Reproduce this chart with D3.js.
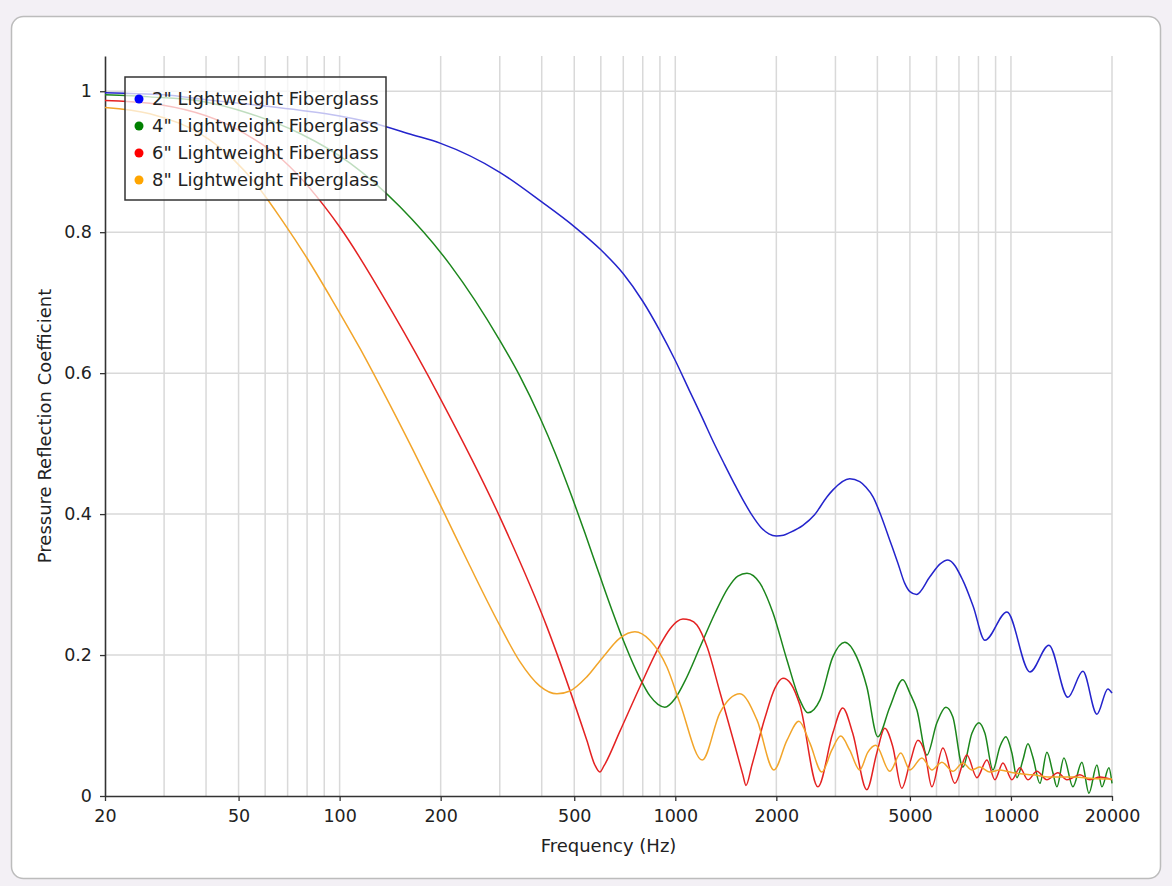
<!DOCTYPE html>
<html><head><meta charset="utf-8">
<script src="https://cdn.jsdelivr.net/npm/d3@7"></script>
<style>
html,body{margin:0;padding:0;background:#f3f0f5;}
svg{display:block;font-family:"DejaVu Sans",Verdana,sans-serif;}
</style></head><body>
<svg id="chart" width="1172" height="886"></svg>
<script>
// ---- data ----
const frequencyTicks = [20, 50, 100, 200, 500, 1000, 2000, 5000, 10000, 20000];
const gridFrequencies = [30, 40, 50, 60, 70, 80, 90, 100, 200, 300, 400, 500, 600, 700, 800, 900,
  1000, 2000, 3000, 4000, 5000, 6000, 7000, 8000, 9000, 10000, 20000];
const reflectionTicks = [0, 0.2, 0.4, 0.6, 0.8, 1];
const seriesLabels = ['2" Lightweight Fiberglass', '4" Lightweight Fiberglass',
  '6" Lightweight Fiberglass', '8" Lightweight Fiberglass'];

// [frequency Hz, pressure reflection coefficient]
const fiberglass2in = [[20,0.998],[22.9,0.997],[30,0.995],[40,0.988],[60,0.979],[76.2,0.973],[100,0.965],
  [120.6,0.957],[165.4,0.938],[200,0.926],[300,0.885],[400,0.843],[500,0.808],[600,0.775],[700,0.741],[800,0.702],
  [900,0.660],[1000,0.618],[1100,0.576],[1200,0.538],[1300,0.502],[1400,0.471],[1500,0.443],[1600,0.418],
  [1700,0.397],[1800,0.381],[1900,0.372],[2000,0.369],[2100,0.370],[2200,0.374],[2400,0.384],[2600,0.399],
  [2826,0.424],[2945,0.434],[3309,0.450],[3544,0.446],[3700,0.438],[3882,0.4245],[4114,0.396],[4355,0.363],
  [4608,0.330],[4823,0.302],[5000,0.290],[5234,0.286],[5734,0.311],[6141,0.329],[6488,0.335],[7190,0.306],
  [7720,0.269],[8365,0.221],[9726,0.261],[11388,0.176],[12973,0.214],[14779,0.140],[16381,0.177],[18032,0.116],
  [19444,0.152],[20000,0.146]];

const fiberglass4in = [[20,0.995],[27.2,0.992],[38.4,0.986],[54.1,0.968],[76.2,0.940],[107.4,0.898],[151.3,0.836],
  [213.2,0.754],[300,0.6465],[344.1,0.596],[395.1,0.537],[437.9,0.4875],[485.5,0.432],[538.1,0.373],[596.3,0.312],
  [647.4,0.264],[708.2,0.215],[784.8,0.167],[840.5,0.142],[887.7,0.130],[931,0.126],[997.6,0.138],[1068,0.163],
  [1184,0.211],[1312,0.259],[1435,0.295],[1536,0.312],[1635,0.316],[1787,0.302],[1954,0.260],[2151,0.193],
  [2351,0.136],[2484,0.118],[2697,0.136],[2945,0.197],[3198,0.218],[3472,0.197],[3720,0.155],[4011,0.084],
  [4355,0.126],[4761,0.165],[5000,0.146],[5246,0.122],[5617,0.058],[6016,0.104],[6400,0.126],[6713,0.112],
  [7190,0.041],[7651,0.089],[8027,0.104],[8365,0.089],[8837,0.037],[9270,0.070],[9660,0.084],[10065,0.061],
  [10417,0.026],[10854,0.051],[11233,0.074],[11625,0.055],[12197,0.018],[12797,0.062],[13335,0.033],
  [13706,0.013],[14380,0.054],[15296,0.013],[16270,0.048],[17070,0.004],[18032,0.044],[18660,0.013],
  [19578,0.040],[20000,0.018]];

const fiberglass6in = [[20,0.987],[27.2,0.983],[48.1,0.949],[67.8,0.902],[100.2,0.807],[144.2,0.685],[199,0.565],
  [300,0.396],[414.6,0.240],[545,0.079],[576,0.044],[596,0.034],[612.9,0.0426],[684.3,0.092],[784.8,0.155],
  [900,0.214],[964,0.237],[1011,0.2475],[1054,0.251],[1105,0.2496],[1160,0.2426],[1245,0.211],[1358,0.1475],
  [1506,0.0709],[1590,0.030],[1624,0.015],[1692,0.044],[1850,0.111],[1981,0.153],[2093,0.167],[2211,0.159],
  [2351,0.129],[2660,0.013],[2945,0.089],[3154,0.125],[3378,0.089],[3720,0.009],[3984,0.061],[4208,0.096],
  [4446,0.070],[4729,0.011],[5000,0.047],[5282,0.079],[5541,0.061],[5813,0.013],[6269,0.068],[6806,0.018],
  [7390,0.058],[7918,0.026],[8479,0.051],[8957,0.023],[9463,0.047],[10065,0.023],[10633,0.040],[11233,0.023],
  [11950,0.035],[12797,0.023],[13799,0.033],[14678,0.023],[16048,0.030],[17188,0.023],[18408,0.027],[20000,0.023]];

const fiberglass8in = [[20,0.977],[27.2,0.968],[38.4,0.940],[48.1,0.904],[57.9,0.861],[67.8,0.815],[80,0.763],
  [95.5,0.702],[115,0.635],[134.6,0.574],[165.4,0.491],[201.8,0.408],[244,0.327],[300,0.242],[344,0.191],
  [395,0.156],[444,0.145],[485.5,0.149],[545,0.169],[608.7,0.197],[684,0.224],[758,0.233],[840,0.221],
  [944,0.183],[1032,0.132],[1203,0.051],[1358,0.118],[1558,0.145],[1751,0.108],[1967,0.037],[2151,0.079],
  [2335,0.106],[2518,0.075],[2734,0.034],[2925,0.065],[3111,0.085],[3309,0.065],[3544,0.037],[3745,0.062],
  [3956,0.072],[4355,0.035],[4697,0.061],[5000,0.037],[5429,0.054],[5813,0.037],[6226,0.048],[6713,0.035],
  [7190,0.047],[7651,0.037],[8083,0.041],[8655,0.034],[9270,0.037],[10135,0.033],[11625,0.030],[13063,0.027],
  [15296,0.027],[17547,0.025],[20000,0.024]];

// ---- styles ----
const lineColors = ['#2424cc', '#1c861c', '#e42222', '#f2a52a'];
const dotColors = ['#0000ff', '#008000', '#ff0000', '#ffa500'];

const series = [fiberglass2in, fiberglass4in, fiberglass6in, fiberglass8in];

const svg = d3.select('#chart');
const mLeft = 105, mRight = 1112, mTop = 56, mBottom = 796;

// card
svg.append('rect').attr('x', 11.5).attr('y', 16.5).attr('width', 1149).attr('height', 862)
  .attr('rx', 12).attr('fill', '#ffffff').attr('stroke', '#bcbcbc').attr('stroke-width', 1.5);

const x = d3.scaleLog().domain([20, 20000]).range([mLeft, mRight]);
const y = d3.scaleLinear().domain([0, 1.05]).range([mBottom, mTop]);

// grid
const grid = svg.append('g').attr('stroke', '#d9d9d9').attr('stroke-width', 1.5);
grid.selectAll('line.v').data(gridFrequencies).join('line').attr('class', 'v')
  .attr('x1', d => x(d)).attr('x2', d => x(d)).attr('y1', mTop).attr('y2', mBottom);
grid.selectAll('line.h').data(reflectionTicks.filter(d => d > 0)).join('line').attr('class', 'h')
  .attr('x1', mLeft).attr('x2', mRight).attr('y1', d => y(d)).attr('y2', d => y(d));

// axes
const fmt = d3.format('d');
const xAxis = svg.append('g').attr('transform', `translate(0,${mBottom})`)
  .call(d3.axisBottom(x).tickValues(frequencyTicks).tickFormat(fmt).tickSize(5).tickSizeOuter(0).tickPadding(9));
const yAxis = svg.append('g').attr('transform', `translate(${mLeft},0)`)
  .call(d3.axisLeft(y).tickValues(reflectionTicks).tickFormat(d => d === 0 ? '0' : d === 1 ? '1' : d3.format('.1f')(d))
    .tickSize(5).tickSizeOuter(0).tickPadding(8));
[xAxis, yAxis].forEach(a => {
  a.select('.domain').attr('stroke', '#333').attr('stroke-width', 1.6);
  a.selectAll('.tick line').attr('stroke', '#333').attr('stroke-width', 1.3);
  a.selectAll('.tick text').attr('fill', '#222').style('font-size', '17.5px')
    .style('font-family', '"DejaVu Sans",Verdana,sans-serif');
});

// axis titles
svg.append('text').attr('x', (mLeft + mRight) / 2).attr('y', 852).attr('text-anchor', 'middle')
  .attr('fill', '#222').style('font-size', '18px').text('Frequency (Hz)');
svg.append('text').attr('transform', `translate(51,${(mTop + mBottom) / 2}) rotate(-90)`)
  .attr('text-anchor', 'middle').attr('fill', '#222').style('font-size', '18px')
  .text('Pressure Reflection Coefficient');

// lines
const line = d3.line().x(d => x(d[0])).y(d => y(d[1])).curve(d3.curveMonotoneX);
svg.append('g').selectAll('path').data(series).join('path')
  .attr('d', line).attr('fill', 'none')
  .attr('stroke', (d, i) => lineColors[i]).attr('stroke-width', 1.5).attr('stroke-linejoin', 'round');

// legend
const lg = svg.append('g');
lg.append('rect').attr('x', 125).attr('y', 77).attr('width', 261).attr('height', 123)
  .attr('fill', '#ffffff').attr('fill-opacity', 0.72).attr('stroke', '#333').attr('stroke-width', 1.5);
const items = lg.selectAll('g.item').data(seriesLabels).join('g').attr('class', 'item')
  .attr('transform', (d, i) => `translate(139,${99 + i * 27})`);
items.append('circle').attr('r', 4.5).attr('fill', (d, i) => dotColors[i]);
items.append('text').attr('x', 13).attr('dy', '0.36em').attr('fill', '#222')
  .style('font-size', '18px').text(d => d);
</script>
</body></html>
